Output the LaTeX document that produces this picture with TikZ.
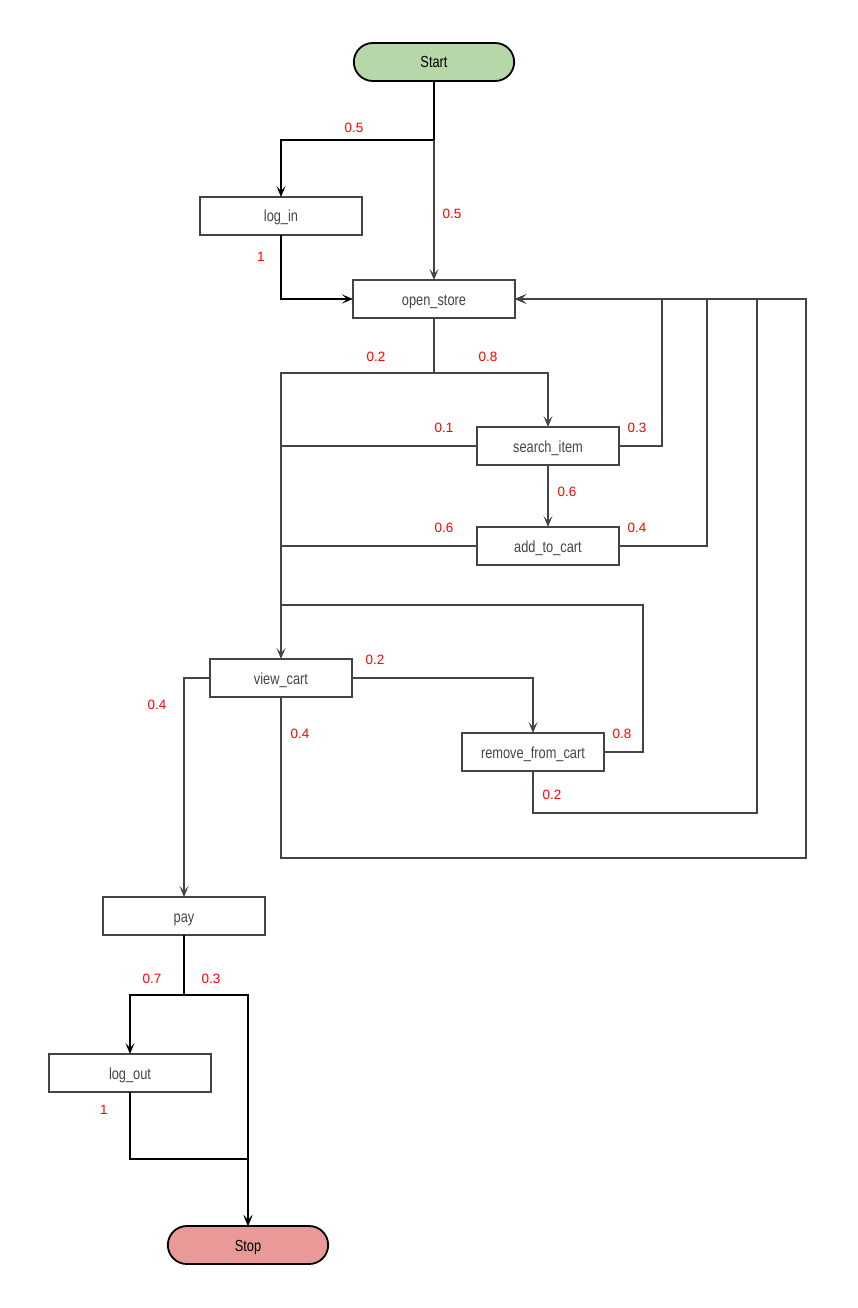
\documentclass[tikz,border=0pt]{standalone}
\usepackage{fontspec}
\setmainfont{Liberation Sans}
\newfontfamily\condfont{Liberation Sans}[FakeStretch=0.8]
\usepackage{tikz}
\usetikzlibrary{shapes.misc,arrows.meta,positioning,calc}
\definecolor{linegray}{HTML}{444444}
\definecolor{startgreen}{HTML}{B6D7A8}
\definecolor{stopred}{HTML}{EA9999}
\definecolor{probred}{HTML}{FF0000}

\begin{document}
\begin{tikzpicture}[
    x=1pt, y=-1pt,
    font=\condfont\fontsize{16}{18}\selectfont,
    node distance=0mm,
    >={Stealth[length=11pt,width=9pt,inset=5pt]},
    terminal/.style={draw=black, rounded rectangle, line width=1.8pt, outer sep=0pt, minimum width=167pt, minimum height=38pt, text height=12pt, text depth=0pt, text=black},
    proc/.style={draw=linegray, line width=1.8pt, outer sep=0pt, minimum height=38pt, text height=12pt, text depth=0pt, text=linegray},
    blk/.style={draw=black, line width=2pt},
    gry/.style={draw=linegray, line width=1.9pt},
    thin/.style={draw=linegray, line width=1.5pt},
    prob/.style={text=probred, font=\rmfamily\fontsize{13.5}{16}\selectfont}
]
\useasboundingbox (0,0) rectangle (857,1308);

% states
\node[terminal, fill=startgreen] (start) at (434,62) {Start};
\node[proc, minimum width=162pt, below=116pt of start, xshift=-153pt] (login) {log\_in};
\node[proc, minimum width=162pt, below=199pt of start] (openstore) {open\_store};
\node[proc, minimum width=142pt, below=109pt of openstore, xshift=114pt] (searchitem) {search\_item};
\node[proc, minimum width=142pt, below=62pt of searchitem] (addtocart) {add\_to\_cart};
\node[proc, minimum width=142pt, below=341pt of openstore, xshift=-153pt] (viewcart) {view\_cart};
\node[proc, minimum width=142pt, below=36pt of viewcart, xshift=252pt] (removefromcart) {remove\_from\_cart};
\node[proc, minimum width=162pt, below=200pt of viewcart, xshift=-97pt] (pay) {pay};
\node[proc, minimum width=162pt, below=119pt of pay, xshift=-54pt] (logout) {log\_out};
\node[terminal, fill=stopred, below=134pt of logout, xshift=118pt] (stop) {Stop};

% transitions
\draw[blk, ->] (start.south) -- ++(0,59) coordinate (s1) -| (login.north);
\draw[thin, ->] (s1) -- (openstore.north);
\draw[blk, ->] (login.south) |- (openstore.west);

\draw[gry, ->] (openstore.south) -- ++(0,55) coordinate (s2) -| (viewcart.north);
\draw[gry, ->] (s2) -| (searchitem.north);

\draw[gry] (searchitem.west) -- (searchitem.west -| viewcart.north);
\draw[gry, ->] (searchitem.east) -- ++(43,0) |- (openstore.east);
\draw[gry, ->] (searchitem.south) -- (addtocart.north);

\draw[gry] (addtocart.west) -- (addtocart.west -| viewcart.north);
\draw[gry, ->] (addtocart.east) -- ++(88,0) |- (openstore.east);

\draw[gry, ->] (viewcart.east) -| (removefromcart.north);
\draw[gry] (removefromcart.east) -- ++(39,0) -- ++(0,-147) coordinate (r1) -- (r1 -| viewcart.north);
\draw[gry, ->] (removefromcart.south) -- ++(0,42) -- ++(224,0) |- (openstore.east);
\draw[gry, ->] (viewcart.south) -- ++(0,161) -- ++(525,0) |- (openstore.east);
\draw[thin, ->] (viewcart.west) -| (pay.north);

\draw[blk, ->] (pay.south) -- ++(0,60) coordinate (s3) -| (logout.north);
\draw[blk, ->] (s3) -| (stop.north);
\draw[blk, ->] (logout.south) -- ++(0,67) -| (stop.north);

% probabilities
\node[prob] (pa) at (354,128) {0.5};
\node[prob] (pb) at (452,214) {0.5};
\node[prob] (pc) at (261,257) {1};
\node[prob] (pd) at (376,357) {0.2};
\node[prob] (pe) at (488,357) {0.8};
\node[prob] (pf) at (444,428) {0.1};
\node[prob] (pg) at (637,428) {0.3};
\node[prob] (ph) at (567,492) {0.6};
\node[prob] (pi) at (444,528) {0.6};
\node[prob] (pj) at (637,528) {0.4};
\node[prob] (pk) at (375,660) {0.2};
\node[prob] (pl) at (622,734) {0.8};
\node[prob] (pm) at (157,705) {0.4};
\node[prob] (pn) at (300,734) {0.4};
\node[prob] (po) at (552,795) {0.2};
\node[prob] (pp) at (152,979) {0.7};
\node[prob] (pq) at (211,979) {0.3};
\node[prob] (pr) at (104,1110) {1};
\end{tikzpicture}
\end{document}
